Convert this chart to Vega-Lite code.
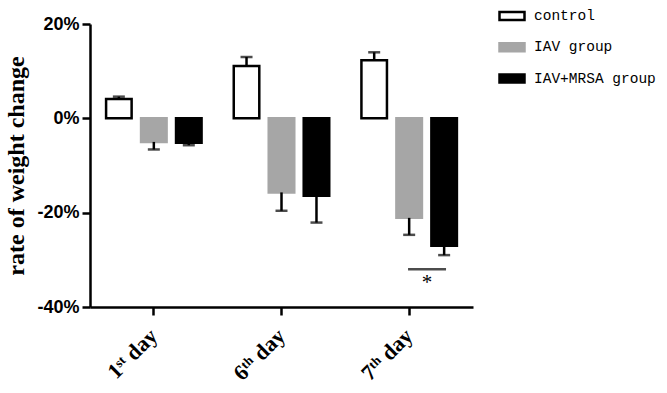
{
  "$schema": "https://vega.github.io/schema/vega-lite/v6.json",
  "width": 383,
  "height": 283,
  "autosize": {"type": "none"},
  "padding": {"left": 90, "top": 24, "right": 194, "bottom": 86},
  "background": "white",
  "config": {
    "view": {"stroke": null},
    "axis": {
      "domainColor": "black", "domainWidth": 2.5, "tickColor": "black", "tickWidth": 2.5,
      "tickSize": 8, "labelColor": "black", "titleColor": "black", "grid": false
    }
  },
  "datasets": {
    "bars": [
      {"day": "1ˢᵗ day", "group": "control", "value": 4.1, "err": 4.6},
      {"day": "1ˢᵗ day", "group": "IAV group", "value": -5.0, "err": -6.6},
      {"day": "1ˢᵗ day", "group": "IAV+MRSA group", "value": -5.2, "err": -5.7},
      {"day": "6ᵗʰ day", "group": "control", "value": 11.1, "err": 13.0},
      {"day": "6ᵗʰ day", "group": "IAV group", "value": -15.7, "err": -19.6},
      {"day": "6ᵗʰ day", "group": "IAV+MRSA group", "value": -16.4, "err": -22.1},
      {"day": "7ᵗʰ day", "group": "control", "value": 12.3, "err": 14.0},
      {"day": "7ᵗʰ day", "group": "IAV group", "value": -21.1, "err": -24.7},
      {"day": "7ᵗʰ day", "group": "IAV+MRSA group", "value": -27.0, "err": -29.0}
    ],
    "sig": [
      {"day": "7ᵗʰ day", "pos": "b", "line": -32.0, "star": -34.9, "label": "*"}
    ]
  },
  "resolve": {"scale": {"xOffset": "independent"}},
  "encoding": {
    "x": {
      "field": "day", "type": "nominal", "sort": ["1ˢᵗ day", "6ᵗʰ day", "7ᵗʰ day"],
      "scale": {"paddingInner": 0, "paddingOuter": 0},
      "axis": {
        "title": null, "labelAngle": -45, "labelAlign": "right", "labelBaseline": "middle",
        "labelFont": "Liberation Serif", "labelFontWeight": "bold", "labelFontSize": 22, "labelPadding": 17
      }
    }
  },
  "layer": [
    {
      "data": {"name": "bars"},
      "encoding": {
        "xOffset": {"field": "group", "type": "nominal", "scale": {"domain": ["control", "IAV group", "IAV+MRSA group"], "paddingInner": 0.27, "paddingOuter": 0.46}}
      },
      "layer": [
        {
          "mark": {"type": "bar", "strokeWidth": 2.5},
          "encoding": {
            "y": {
              "field": "value", "type": "quantitative",
              "scale": {"domain": [-40, 20], "nice": false},
              "axis": {
                "values": [-40, -20, 0, 20], "labelExpr": "datum.value + '%'",
                "labelFont": "Liberation Sans", "labelFontWeight": "bold", "labelFontSize": 18, "labelPadding": 3,
                "title": "rate of weight change", "titleFont": "Liberation Serif", "titleFontWeight": "bold",
                "titleFontSize": 24, "titlePadding": 8
              }
            },
            "fill": {
              "field": "group", "type": "nominal",
              "scale": {"domain": ["control", "IAV group", "IAV+MRSA group"], "range": ["#ffffff", "#a6a6a6", "#000000"]},
              "legend": {
                "title": null, "orient": "none", "legendX": 408, "legendY": -22,
                "symbolType": "M-1,-0.32H1V0.32H-1Z", "symbolSize": 625, "symbolStrokeWidth": 2.5,
                "labelFont": "Liberation Mono", "labelFontSize": 14.5, "labelColor": "black",
                "labelOffset": 8, "rowPadding": 8.3
              }
            },
            "stroke": {
              "field": "group", "type": "nominal",
              "scale": {"domain": ["control", "IAV group", "IAV+MRSA group"], "range": ["#000000", "#a6a6a6", "#000000"]},
              "legend": null
            }
          }
        },
        {
          "mark": {"type": "rule", "color": "black", "strokeWidth": 2.5},
          "encoding": {
            "y": {"field": "value", "type": "quantitative"},
            "y2": {"field": "err"}
          }
        },
        {
          "mark": {"type": "tick", "color": "black", "thickness": 2.5, "size": 12, "orient": "horizontal"},
          "encoding": {
            "y": {"field": "err", "type": "quantitative"}
          }
        }
      ]
    },
    {
      "mark": {"type": "rule", "color": "black", "strokeWidth": 2.5},
      "encoding": {"y": {"datum": 0, "type": "quantitative"}}
    },
    {
      "data": {"name": "sig"},
      "encoding": {
        "xOffset": {"field": "pos", "type": "nominal", "scale": {"domain": ["a", "b"], "paddingInner": 0, "paddingOuter": 0.786}}
      },
      "layer": [
        {
          "mark": {"type": "tick", "color": "black", "thickness": 2.5, "size": 38, "orient": "horizontal"},
          "encoding": {"y": {"field": "line", "type": "quantitative"}}
        },
        {
          "mark": {"type": "text", "color": "black", "font": "Liberation Serif", "fontSize": 21, "baseline": "middle", "align": "center"},
          "encoding": {
            "y": {"field": "star", "type": "quantitative"},
            "text": {"field": "label"}
          }
        }
      ]
    }
  ]
}
